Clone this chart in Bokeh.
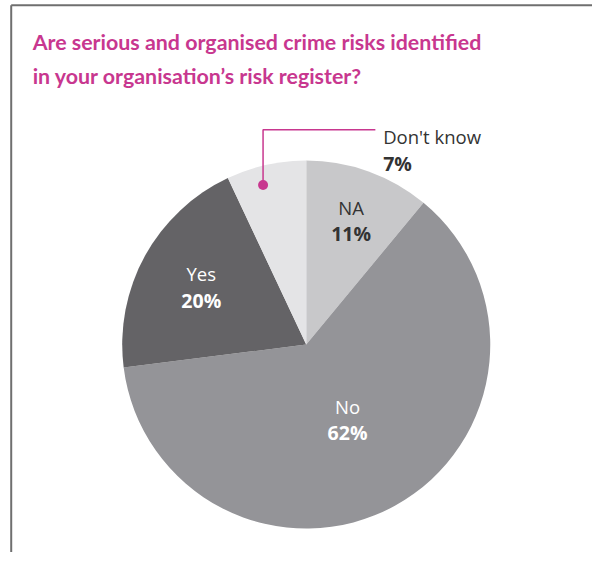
import math
from bokeh.plotting import figure
from bokeh.models import Range1d
from bokeh.core.properties import value
from bokeh.embed import file_html
from bokeh.resources import INLINE

title_lines = ["Are serious and organised crime risks identified",
               "in your organisation\u2019s risk register?"]
categories = ["NA", "No", "Yes", "Don't know"]
percents = [11, 62, 20, 7]

colors = ["#c8c8ca", "#949498", "#646366", "#e4e4e6"]
label_colors = ["#333333", "#ffffff", "#ffffff", "#333333"]
label_radius = [136, 88, 123]          # inside labels for first three slices
MAGENTA = "#c8378f"
BODY_FONT = "Open Sans"
TITLE_FONT = "Lato"

# Reference space is 608 x 568; figure is drawn at 592 x 552 and scaled by Bokeh.
RW, RH = 608, 568
W, H = 592, 552
def sy(y):  # reference y (from top) -> data y
    return RH - y

p = figure(width=W, height=H, x_range=Range1d(0, RW), y_range=Range1d(0, RH),
           output_backend="svg", toolbar_location=None, min_border=0)
p.xaxis.visible = False
p.yaxis.visible = False
p.xgrid.visible = False
p.ygrid.visible = False
p.outline_line_color = None
p.background_fill_color = "white"

# frame lines (left and top)
p.line([11, 11], [0, sy(5)], line_color="#6f6f6f", line_width=2)
p.line([11, RW], [sy(5), sy(5)], line_color="#6f6f6f", line_width=2)

# title
for i, t in enumerate(title_lines):
    p.text(x=[33], y=[sy(43 + 35 * i)], text=[t], text_font=value(TITLE_FONT),
           text_font_style="bold", text_font_size="21.4px", text_color=MAGENTA,
           text_baseline="middle", text_align="left")

# pie
cx, cy, R = 314, sy(354), 189
total = sum(percents)
cum = [0]
for v in percents:
    cum.append(cum[-1] + v)
starts = [math.pi / 2 - 2 * math.pi * c / total for c in cum[:-1]]
ends = [math.pi / 2 - 2 * math.pi * c / total for c in cum[1:]]
p.wedge(x=cx, y=cy, radius=R, start_angle=starts, end_angle=ends,
        direction="clock", fill_color=colors, line_color=None)

# inside labels
for i in range(3):
    mid = (cum[i] + percents[i] / 2) / total * 2 * math.pi  # clockwise from top
    ax = cx + label_radius[i] * math.sin(mid)
    ay = cy + label_radius[i] * math.cos(mid)
    p.text(x=[ax], y=[ay + 13.5], text=[categories[i]], text_font=value(BODY_FONT),
           text_font_size="18.5px", text_color=label_colors[i],
           text_align="center", text_baseline="middle")
    p.text(x=[ax], y=[ay - 13.5], text=[f"{percents[i]}%"], text_font=value(BODY_FONT),
           text_font_style="bold", text_font_size="19.5px", text_color=label_colors[i],
           text_align="center", text_baseline="middle")

# callout for "Don't know"
ang = (cum[3] + 0.4 * percents[3]) / total * 2 * math.pi
dx = cx + 170 * math.sin(ang)
dy = cy + 170 * math.cos(ang)
p.line([dx, dx, 385], [dy, sy(133), sy(133)], line_color=MAGENTA, line_width=1.5)
p.scatter([dx], [dy], size=10, fill_color=MAGENTA, line_color=None)
p.text(x=[393], y=[sy(140)], text=[categories[3]], text_font=value(BODY_FONT),
       text_font_size="18.5px", text_color="#333333", text_align="left", text_baseline="middle")
p.text(x=[393], y=[sy(168)], text=[f"{percents[3]}%"], text_font=value(BODY_FONT),
       text_font_style="bold", text_font_size="19.5px", text_color="#333333",
       text_align="left", text_baseline="middle")

open("out.html", "w").write(file_html(p, INLINE))
